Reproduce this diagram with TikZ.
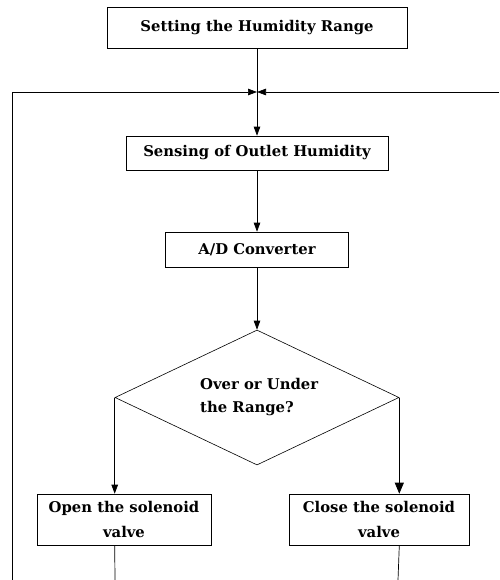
\documentclass[tikz,border=0pt]{standalone}
\usepackage{fontspec}
\setmainfont{DejaVu Serif}
\usetikzlibrary{arrows.meta,shapes.geometric}
\begin{document}
\begin{tikzpicture}[x=1pt,y=-1pt,
  box/.style={draw, line width=0.6pt, inner sep=0pt, font=\bfseries\fontsize{14.8}{25}\selectfont, align=center},
  lbl/.style={inner sep=0pt, font=\bfseries\fontsize{14.8}{23}\selectfont, align=left},
  conn/.style={line width=0.7pt},
  arr/.style={conn, -{Triangle[length=9pt,width=6.5pt]}},
  bigarr/.style={conn, -{Triangle[length=11pt,width=9pt]}}]
\useasboundingbox (0,0) rectangle (499,580);
\node[box, minimum width=300pt, minimum height=41pt] (set) at (257,27.5) {Setting the Humidity Range};
\node[box, minimum width=262pt, minimum height=34pt] (sens) at (257,153) {Sensing of Outlet Humidity};
\node[box, minimum width=183pt, minimum height=35pt] (ad) at (257,249.5) {A/D Converter};
\node[draw, diamond, line width=0.6pt, minimum width=284pt, minimum height=135pt, inner sep=0pt] (dec) at (257,397.5) {};
\node[lbl, anchor=west] (dect) at (200,397) {Over or Under\\the Range?};
\node[box, minimum width=174pt, minimum height=51pt] (open) at (124,519.5) {Open the solenoid\\valve};
\node[box, minimum width=180pt, minimum height=51pt] (close) at (379,519.5) {Close the solenoid\\valve};
\coordinate (j) at (257,92);
\coordinate (lt) at (12,92);
\coordinate (lb) at (12,580);
\coordinate (rt) at (499,92);
\coordinate (ob) at (115,580);
\coordinate (cb) at (398,580);
\draw[arr] (set.south) -- (sens.north);
\draw[arr] (lb) -- (lt) -- (j);
\draw[arr] (rt) -- (j);
\draw[arr] (sens.south) -- (ad.north);
\draw[arr] (ad.south) -- (dec.north);
\draw[arr] (dec.west) -- (open.north -| dec.west);
\draw[bigarr] (dec.east) -- (close.north -| dec.east);
\draw[conn] (open.south -| dec.west) -- (ob);
\draw[conn] (close.south -| dec.east) -- (cb);
\end{tikzpicture}
\end{document}
